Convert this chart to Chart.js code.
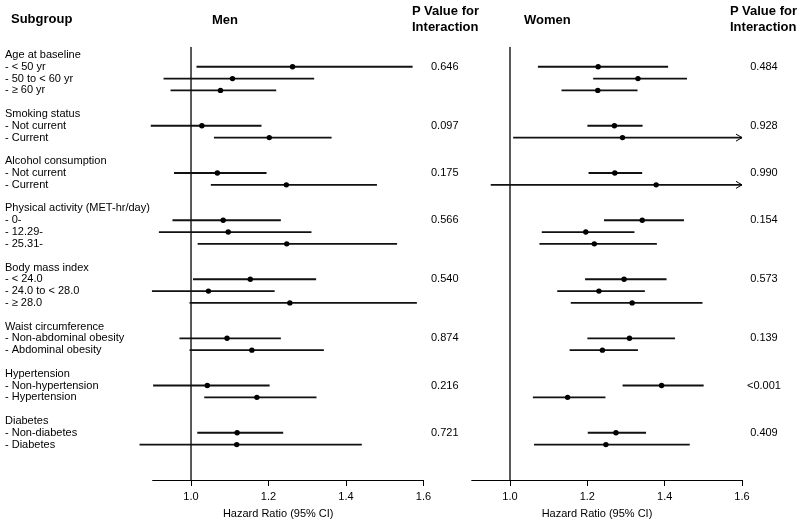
<!DOCTYPE html>
<html>
<head>
<meta charset="utf-8">
<script src="https://cdn.jsdelivr.net/npm/chart.js@4.4.1/dist/chart.umd.min.js"></script>
<style>
html,body{margin:0;padding:0;background:#fff;}
#wrap{position:relative;width:800px;height:524px;overflow:hidden;font-family:Arial,"Liberation Sans",sans-serif;}
.hd{position:absolute;font-weight:bold;font-size:13px;line-height:15.5px;color:#000;white-space:nowrap;}
canvas{position:absolute;top:0;}
</style>
</head>
<body>
<div id="wrap">
  <canvas id="men" width="480" height="524" style="left:0"></canvas>
  <canvas id="women" width="360" height="524" style="left:440px"></canvas>
  <div class="hd" style="left:11px;top:11px">Subgroup</div>
  <div class="hd" style="left:212px;top:12px">Men</div>
  <div class="hd" style="left:412px;top:3px">P Value for<br>Interaction</div>
  <div class="hd" style="left:524px;top:12px">Women</div>
  <div class="hd" style="left:730px;top:3px">P Value for<br>Interaction</div>
</div>
<script>
// rows of the forest plot, '' = blank spacer row
const subgroupLabels = [
  'Age at baseline','- < 50 yr','- 50 to < 60 yr','- \u2265 60 yr','',
  'Smoking status','- Not current','- Current','',
  'Alcohol consumption','- Not current','- Current','',
  'Physical activity (MET-hr/day)','- 0-','- 12.29-','- 25.31-','',
  'Body mass index','- < 24.0','- 24.0 to < 28.0','- \u2265 28.0','',
  'Waist circumference','- Non-abdominal obesity','- Abdominal obesity','',
  'Hypertension','- Non-hypertension','- Hypertension','',
  'Diabetes','- Non-diabetes','- Diabetes'
];

// hazard ratios (one per "- " row)
const menHR = [1.262,1.107,1.076, 1.028,1.202, 1.068,1.246, 1.083,1.096,1.247, 1.153,1.045,1.255, 1.093,1.157, 1.042,1.170, 1.119,1.118];
const menLo = [1.015,0.930,0.948, 0.897,1.060, 0.957,1.052, 0.953,0.918,1.018, 1.006,0.900,0.997, 0.971,0.997, 0.903,1.035, 1.017,0.868];
const menHi = [1.571,1.317,1.219, 1.181,1.362, 1.194,1.479, 1.231,1.310,1.531, 1.322,1.215,1.582, 1.231,1.342, 1.202,1.323, 1.237,1.440];

const womenHR = [1.228,1.331,1.227, 1.270,1.291, 1.271,1.378, 1.342,1.196,1.218, 1.295,1.230,1.316, 1.309,1.239, 1.392,1.149, 1.274,1.248];
const womenLo = [1.073,1.216,1.134, 1.201,1.009, 1.204,0.951, 1.244,1.083,1.077, 1.195,1.123,1.158, 1.201,1.155, 1.292,1.060, 1.202,1.063];
const womenHi = [1.408,1.457,1.329, 1.342,1.600, 1.341,1.600, 1.449,1.321,1.379, 1.404,1.348,1.497, 1.426,1.330, 1.500,1.246, 1.351,1.464];

const menP   = ['0.646','0.097','0.175','0.566','0.540','0.874','0.216','0.721'];
const womenP = ['0.484','0.928','0.990','0.154','0.573','0.139','<0.001','0.409'];

const xTicks = [1.0,1.2,1.4,1.6];
const refLine = 1.0;
const axisFrom = 0.9;
const X_MIN = 0.85, X_MAX = 1.6;
const Y_TOP = -0.7, Y_BOT = 36;

Chart.defaults.font.family = 'Arial, "Liberation Sans", sans-serif';
Chart.defaults.font.size = 11;
Chart.defaults.color = '#000';

const itemRows = subgroupLabels.map((s,i)=>s.startsWith('- ')?i:-1).filter(i=>i>=0);
const labelRows = subgroupLabels.map((s,i)=>s?i:-1).filter(i=>i>=0);
const pRows = subgroupLabels.map((s,i)=>(s && !s.startsWith('- '))?i+1:-1).filter(i=>i>=0);

// axis line from 0.9 and arrow heads for CIs running off the right edge
const axisLinePlugin = {
  id:'axisLine',
  afterDraw(chart){
    const {ctx, chartArea, scales:{x, y}} = chart;
    ctx.save();
    ctx.strokeStyle = '#000'; ctx.lineWidth = 1;
    const yb = Math.round(chartArea.bottom)+0.5;
    ctx.beginPath();
    ctx.moveTo(x.getPixelForValue(axisFrom), yb);
    ctx.lineTo(x.getPixelForValue(X_MAX)+0.5, yb);
    ctx.stroke();
    chart.data.datasets[1].data.forEach(d=>{
      if(d.x[1] >= X_MAX){
        const px = x.getPixelForValue(X_MAX), py = y.getPixelForValue(d.y);
        ctx.beginPath();
        ctx.moveTo(px-6, py-3.5); ctx.lineTo(px, py); ctx.lineTo(px-6, py+3.5);
        ctx.stroke();
      }
    });
    ctx.restore();
  }
};

function forest(id, hr, lo, hi, pvals, cfg){
  const ciData = itemRows.map((r,i)=>({x:[lo[i],hi[i]], y:r}));
  const ptData = itemRows.map((r,i)=>({x:hr[i], y:r}));
  return new Chart(document.getElementById(id), {
    type:'scatter',
    data:{ datasets:[
      { type:'scatter', data:[{x:refLine,y:Y_TOP},{x:refLine,y:Y_BOT}], showLine:true,
        borderColor:'#000', borderWidth:1.3, pointRadius:0, order:3 },
      { type:'bar', indexAxis:'y', data:ciData, backgroundColor:'#111', barThickness:1.2,
        borderWidth:0, order:2 },
      { type:'scatter', data:ptData, pointRadius:2.7, backgroundColor:'#000',
        borderWidth:0, order:1 }
    ]},
    options:{
      responsive:false, animation:false,
      layout:{ padding:{ top:46.7, left:cfg.padLeft, right:0, bottom:0 } },
      plugins:{ legend:{display:false}, tooltip:{enabled:false} },
      scales:{
        x:{ type:'linear', min:X_MIN, max:X_MAX, offset:false,
          afterBuildTicks:s=>{ s.ticks = xTicks.map(v=>({value:v})); },
          afterFit:s=>{ s.height = 44; },
          grid:{ drawOnChartArea:false, drawTicks:true, tickLength:6, tickColor:'#000', offset:false },
          border:{ display:false },
          ticks:{ padding:4, maxRotation:0, autoSkip:false, callback:v=>Number(v).toFixed(1) },
          title:{ display:true, text:'Hazard Ratio (95% CI)', padding:{top:0,bottom:3.4} }
        },
        // subgroup labels: mirrored so they are not clipped at the plot edge
        y:{ type:'linear', reverse:true, min:Y_TOP, max:Y_BOT, offset:false, position:'left', display:cfg.showLabels,
          afterBuildTicks:s=>{ s.ticks = labelRows.map(r=>({value:r})); },
          afterFit:s=>{ s.width = cfg.labelW; },
          grid:{ display:false, drawTicks:false, offset:false }, border:{ display:false },
          ticks:{ mirror:true, padding:-cfg.labelW, autoSkip:false, callback:v=>subgroupLabels[v] }
        },
        y2:{ type:'linear', reverse:true, min:Y_TOP, max:Y_BOT, offset:false, position:'right',
          afterBuildTicks:s=>{ s.ticks = pRows.map(r=>({value:r})); },
          afterFit:s=>{ s.width = cfg.pW; },
          grid:{ display:false, drawTicks:false }, border:{ display:false },
          ticks:{ crossAlign:'center', padding:cfg.pPad, autoSkip:false, callback:(v,i)=>pvals[i] }
        }
      }
    },
    plugins:[axisLinePlugin]
  });
}

forest('men', menHR, menLo, menHi, menP, { showLabels:true, padLeft:5, labelW:127.9, pW:56.5, pPad:7.5 });
forest('women', womenHR, womenLo, womenHi, womenP, { showLabels:false, padLeft:12, labelW:0, pW:58, pPad:5 });
</script>
</body>
</html>
